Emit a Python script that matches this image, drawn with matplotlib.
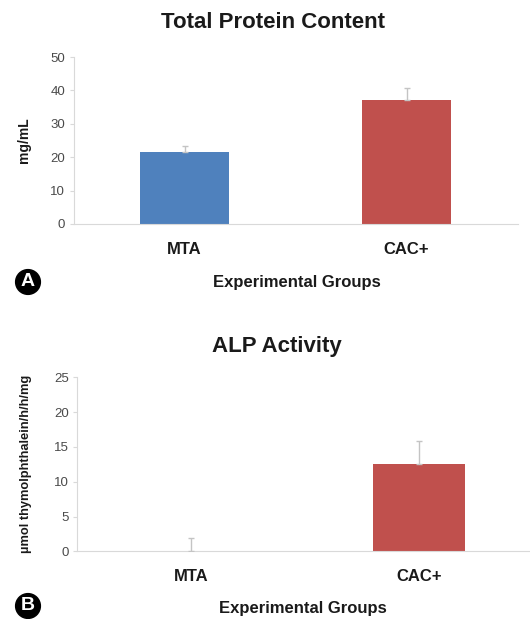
import matplotlib.pyplot as plt
import numpy as np

plt.rcParams['font.family'] = ['Liberation Sans', 'DejaVu Sans']

groups = ['MTA', 'CAC+']
colors = ['#4F81BD', '#C0504D']

# Total protein content (mg/mL)
protein = [21.5, 37.1]
protein_err = [2.0, 3.6]

# ALP activity (umol thymolphthalein/h/h/mg)
alp = [0.0, 12.6]
alp_err = [1.85, 3.2]

grid_c = '#d9d9d9'
tick_c = '#4a4a4a'
txt_c = '#1a1a1a'

fig = plt.figure(figsize=(5.30, 6.19), dpi=100)


def px(v):
    return 1 - v / 619


def panel(rect, vals, errs, ymax, ystep, title, ylabel, ylab_size, ylab_pad, letter, letter_y,
          xl_pos, title_pos):
    ax = fig.add_axes(rect)
    x = np.arange(len(groups))
    bar_colors = [c if v > 0 else 'none' for c, v in zip(colors, vals)]
    ax.bar(x, vals, width=0.4, color=bar_colors, edgecolor='none', zorder=2)
    ax.errorbar(x, vals, yerr=[np.zeros(len(errs)), errs], fmt='none',
                ecolor='#c4c4c4', elinewidth=1, capsize=2.5, capthick=1, zorder=3)
    ax.set_xlim(-0.5, 1.5)
    ax.set_ylim(0, ymax)
    ax.set_yticks(np.arange(0, ymax + 0.1, ystep))
    ax.set_xticks(x)
    ax.set_xticklabels(groups, fontsize=12, fontweight='bold', color=txt_c)
    ax.tick_params(axis='x', length=0, pad=13)
    ax.tick_params(axis='y', length=3, color=grid_c, labelsize=9.5, labelcolor=tick_c, pad=3)
    for s in ['top', 'right']:
        ax.spines[s].set_visible(False)
    ax.spines['left'].set_color(grid_c)
    ax.spines['bottom'].set_color(grid_c)
    ax.set_ylabel(ylabel, fontsize=ylab_size, fontweight='bold', color=txt_c, labelpad=ylab_pad)
    fig.text(title_pos[0] / 530, px(title_pos[1]), title, ha='center', va='center',
             fontsize=16, fontweight='bold', color=txt_c)
    fig.text(xl_pos[0] / 530, px(xl_pos[1]), 'Experimental Groups', ha='center', va='center',
             fontsize=12, fontweight='bold', color=txt_c)
    fig.text(28 / 530, px(letter_y), letter, ha='center', va='center', fontsize=14,
             fontweight='bold', color='white',
             bbox=dict(boxstyle='circle,pad=0.2', fc='black', ec='black'))
    return ax


panel([73.6 / 530, px(224), 444 / 530, 167 / 619], protein, protein_err, 50, 10,
      'Total Protein Content', 'mg/mL', 10, 14, 'A', 282, (297, 282), (273, 22))
panel([77 / 530, px(551.3), 456 / 530, 174 / 619], alp, alp_err, 25, 5,
      'ALP Activity', '\u00b5mol thymolphthalein/h/h/mg', 9.3, 16, 'B', 606, (303, 609), (277, 347))

fig.savefig('out.png', dpi=100)
